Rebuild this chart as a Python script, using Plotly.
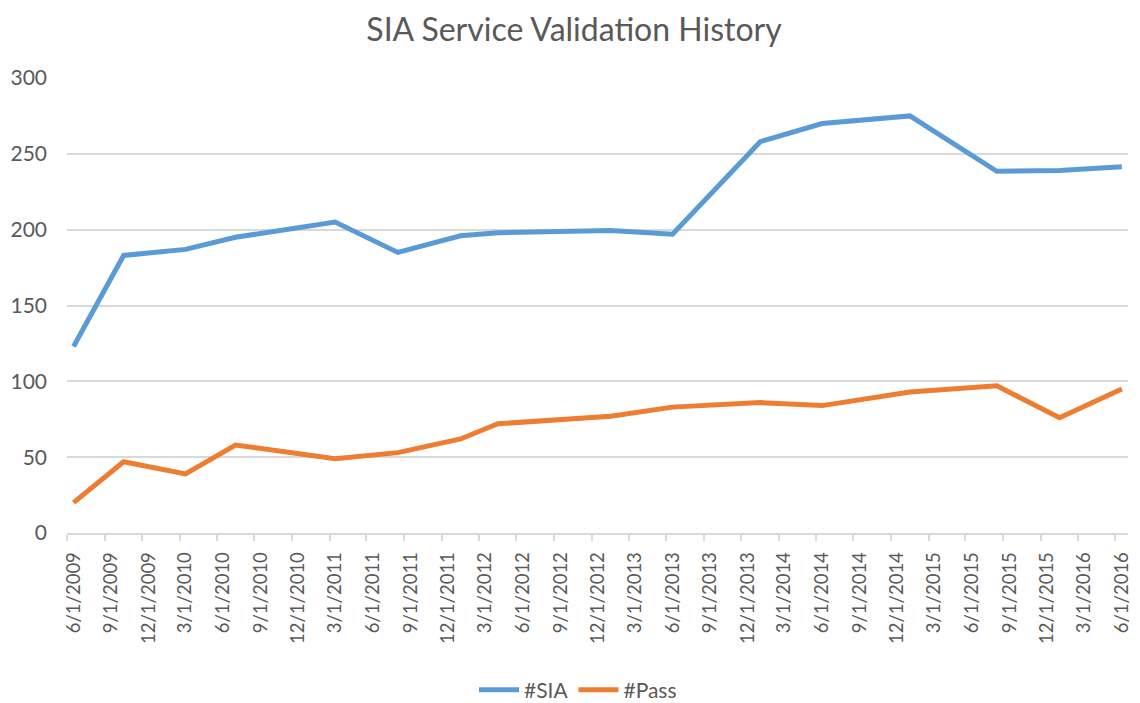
import plotly.graph_objects as go

dates = ["2009-06-01", "2009-10-01", "2010-03-01", "2010-07-01", "2011-03-01",
         "2011-08-01", "2012-01-01", "2012-04-01", "2013-01-01", "2013-06-01",
         "2014-01-01", "2014-06-01", "2015-01-01", "2015-08-01", "2016-01-01",
         "2016-06-01"]
sia = [123, 183, 187, 195, 205, 185, 196, 198, 199.5, 197, 258, 270, 275, 238.5, 239, 241.5]
passed = [20, 47, 39, 58, 49, 53, 62, 72, 77, 83, 86, 84, 93, 97, 76, 95]

title_text = "SIA Service Validation History"
font_family = "Lato, Open Sans, sans-serif"
text_color = "#595959"
grid_color = "#d9d9d9"

W, H = 1140, 703
OFF = 8  # browser default body margin

fig = go.Figure()
fig.add_trace(go.Scatter(x=dates, y=sia, mode="lines", name="#SIA",
                         line=dict(color="#5B9BD5", width=5)))
fig.add_trace(go.Scatter(x=dates, y=passed, mode="lines", name="#Pass",
                         line=dict(color="#ED7D31", width=5)))

fig.update_layout(
    width=W, height=H,
    paper_bgcolor="white", plot_bgcolor="white",
    margin=dict(l=67 - OFF, r=W - 1128 + OFF, t=78 - OFF, b=H - 533 + OFF, autoexpand=False),
    title=dict(text=title_text, x=(574 - OFF) / W, xanchor="center", xref="container",
               yref="container", y=1 - 22 / H, yanchor="middle",
               font=dict(family=font_family, size=32, color=text_color)),
    font=dict(family=font_family, color=text_color, size=16),
    legend=dict(orientation="h", x=(578 - OFF) / W, xanchor="center", xref="container",
                yref="container", y=(13 + OFF) / H, yanchor="middle",
                font=dict(size=21, color=text_color), itemwidth=40, tracegroupgap=0),
    showlegend=True,
)
fig.update_xaxes(
    type="date",
    range=["2009-05-16", "2016-06-16"],
    tick0="2009-06-01", dtick="M3", tickformat="%-m/%-d/%Y",
    tickangle=-90, ticks="", showgrid=False,
    showline=True, linecolor=grid_color, linewidth=1.5,
    tickfont=dict(size=18.5, color=text_color), ticklabelstandoff=10,
    minor=dict(ticks="outside", ticklen=6, tickcolor=grid_color, tickwidth=1.5,
               tick0="2009-05-16", dtick="M3", showgrid=False),
    zeroline=False,
)
fig.update_yaxes(
    range=[0, 300], dtick=50, showgrid=True, gridcolor=grid_color, gridwidth=1.5,
    zeroline=False, showline=False, ticks="",
    tickfont=dict(size=21, color=text_color), ticklabelstandoff=19,
)

fig.write_html("out.html")
